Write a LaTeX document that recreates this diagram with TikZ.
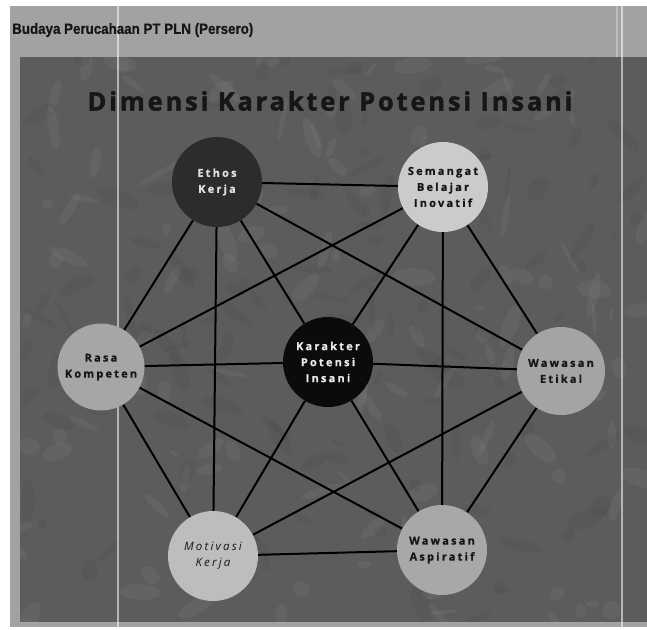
\documentclass[tikz,border=0pt]{standalone}
\usepackage{fontspec}
\setmainfont{Open Sans}
\newfontfamily\hdrfont[FakeBold=0.6]{Liberation Sans Bold}
\newfontfamily\titlefont[LetterSpace=11,FakeBold=1.6]{Open Sans Bold}
\newfontfamily\lblfont[LetterSpace=20,FakeBold=0.6]{Open Sans Bold}
\newfontfamily\motfont[LetterSpace=19]{Open Sans Italic}
\definecolor{panel}{HTML}{A2A2A2}
\definecolor{bgdark}{HTML}{5C5C5C}
\definecolor{titlecol}{HTML}{161616}
\definecolor{ethoscol}{HTML}{2C2C2C}
\definecolor{semcol}{HTML}{CBCBCB}
\definecolor{rasacol}{HTML}{A6A6A6}
\definecolor{karcol}{HTML}{0B0B0B}
\definecolor{etikcol}{HTML}{A4A4A4}
\definecolor{motcol}{HTML}{BDBDBD}
\definecolor{aspcol}{HTML}{A8A8A8}
\pgfdeclarelayer{bg}
\pgfdeclarelayer{edges}
\pgfsetlayers{bg,edges,main}
\begin{document}
\begin{tikzpicture}[x=1pt,y=-1pt,
  conn/.style={line width=2pt, black},
  circ/.style={circle, minimum size=90pt, inner sep=0pt, align=center,
    font=\lblfont\fontsize{11}{16}\selectfont, text=titlecol},
  artifact/.style={white, line width=1.2pt, opacity=0.55}
]
\useasboundingbox (0,0) rectangle (647,629);
\begin{pgfonlayer}{bg}
  \fill[white] (0,0) rectangle (647,629);
  \fill[panel] (10,6) rectangle (647,627);
  \fill[bgdark] (20,57) rectangle (647,622);
  \begin{scope}
    \clip (20,57) rectangle (647,622);
    \pgfmathsetseed{11}
    \foreach \i in {1,...,260} {
      \pgfmathsetmacro{\px}{20+627*rnd}
      \pgfmathsetmacro{\py}{57+565*rnd}
      \pgfmathsetmacro{\rx}{5+18*rnd}
      \pgfmathsetmacro{\ry}{2+7*rnd}
      \pgfmathsetmacro{\rot}{360*rnd}
      \pgfmathsetmacro{\sh}{rnd>0.5 ? 100 : 0}
      \fill[white!\sh!black, opacity=0.045, rotate around={\rot:(\px,\py)}]
        (\px,\py) ellipse [x radius=\rx, y radius=\ry];
    }
  \end{scope}
  \draw[artifact] (118,6) -- (118,627);
  \draw[artifact] (622,6) -- (622,627);
  \draw[artifact, opacity=0.3] (617,6) -- (617,57);
\end{pgfonlayer}

\node[anchor=west, font=\hdrfont\fontsize{15}{16}\selectfont, text=titlecol, inner sep=0pt]
  (hdr) at (12,30) {\scalebox{0.89}[1]{Budaya Perucahaan PT PLN (Persero)}};
\node[font=\titlefont\fontsize{25.5}{28}\selectfont, text=titlecol, inner sep=0pt]
  (title) at (330,101) {Dimensi Karakter Potensi Insani};

\node[circ, fill=ethoscol, text=white!88!black] (E) at (217,182) {Ethos\\Kerja};
\node[circ, fill=semcol] (S) at (443,187) {Semangat\\Belajar\\Inovatif};
\node[circ, fill=rasacol, minimum size=87pt] (R) at (101,367) {Rasa\\Kompeten};
\node[circ, fill=karcol, text=white!92!black] (C) at (328,362) {Karakter\\Potensi\\Insani};
\node[circ, fill=etikcol, minimum size=88pt] (W) at (561,371) {Wawasan\\Etikal};
\node[circ, fill=motcol, font=\motfont\fontsize{11.5}{16}\selectfont] (M) at (213,556) {Motivasi\\Kerja};
\node[circ, fill=aspcol] (A) at (442,550) {Wawasan\\Aspiratif};

\begin{pgfonlayer}{edges}
  \foreach \n in {E,S,R,W,M,A} { \draw[conn] (C) -- (\n); }
  \draw[conn] (E) -- (S);
  \draw[conn] (E) -- (R);
  \draw[conn] (E) -- (M);
  \draw[conn] (E) -- (W);
  \draw[conn] (S) -- (R);
  \draw[conn] (S) -- (W);
  \draw[conn] (S) -- (A);
  \draw[conn] (R) -- (M);
  \draw[conn] (R) -- (A);
  \draw[conn] (W) -- (M);
  \draw[conn] (W) -- (A);
  \draw[conn] (M) -- (A);
\end{pgfonlayer}
\end{tikzpicture}
\end{document}
